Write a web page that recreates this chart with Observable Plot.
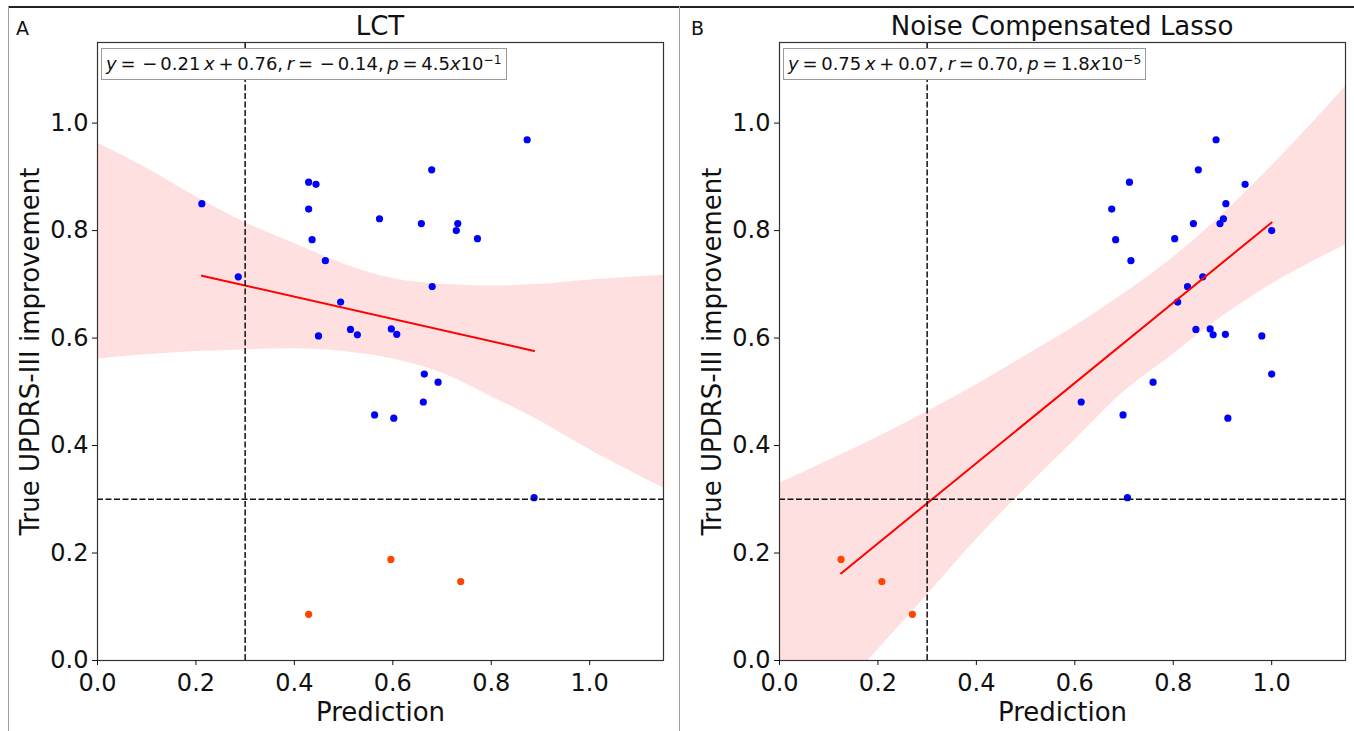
<!DOCTYPE html>
<html>
<head>
<meta charset="utf-8">
<script src="https://cdn.jsdelivr.net/npm/d3@7"></script>
<script src="https://cdn.jsdelivr.net/npm/@observablehq/plot@0.6"></script>
<style>
  body { margin: 0; background: #fff; font-family: "DejaVu Sans", sans-serif; }
  #fig { position: relative; width: 1354px; height: 731px; overflow: hidden; background: #fff; }
  .panel { position: absolute; top: 0; }
  .title { position: absolute; top: 10px; font-size: 26px; line-height: 32px; color: #111; white-space: nowrap; transform: translateX(-50%); }
  .letter { position: absolute; top: 16px; font-size: 19px; line-height: 24px; color: #111; }
  .ann { position: absolute; top: 48px; height: 32px; box-sizing: border-box; border: 1px solid #9a9a9a; background: #fff;
         font-size: 18px; line-height: 30px; padding: 0 4px; white-space: nowrap; color: #111; word-spacing: -2px; }
  .ann sup { font-size: 0.68em; position: relative; top: -0.5em; vertical-align: baseline; line-height: 0; }
  .ann .m { margin: 0 3px; }
  .hline { position: absolute; background: #222; }
  .vline { position: absolute; background: #a0a0a0; }
</style>
</head>
<body>
<div id="fig"></div>
<script>
// ---- data ----
const trueImprovement = [0.969, 0.913, 0.890, 0.886, 0.850, 0.840, 0.822, 0.813, 0.813, 0.800,
                         0.785, 0.783, 0.744, 0.714, 0.696, 0.667, 0.617, 0.616, 0.607, 0.606,
                         0.604, 0.533, 0.518, 0.481, 0.457, 0.451, 0.303, 0.188, 0.147, 0.086];
const predLCT = [0.873, 0.679, 0.429, 0.444, 0.212, 0.429, 0.573, 0.658, 0.732, 0.729,
                 0.772, 0.436, 0.463, 0.286, 0.680, 0.494, 0.597, 0.514, 0.608, 0.528,
                 0.449, 0.664, 0.692, 0.662, 0.563, 0.602, 0.887, 0.596, 0.738, 0.429];
const predNCL = [0.887, 0.851, 0.711, 0.946, 0.907, 0.675, 0.902, 0.841, 0.895, 1.000,
                 0.803, 0.683, 0.714, 0.860, 0.829, 0.809, 0.875, 0.846, 0.906, 0.881,
                 0.980, 1.000, 0.759, 0.613, 0.698, 0.911, 0.707, 0.125, 0.208, 0.270];
const threshold = 0.3;

// confidence band
const bandX     = [0, 0.1, 0.2, 0.3, 0.4, 0.5, 0.6, 0.7, 0.8, 0.9, 1.0, 1.15];
const lctUpper  = [0.963, 0.916, 0.863, 0.815, 0.776, 0.738, 0.711, 0.700, 0.697, 0.700, 0.708, 0.717];
const lctLower  = [0.561, 0.569, 0.575, 0.578, 0.580, 0.575, 0.561, 0.535, 0.491, 0.445, 0.392, 0.321];
const nclUpper  = [0.330, 0.372, 0.416, 0.463, 0.513, 0.567, 0.622, 0.683, 0.750, 0.830, 0.920, 1.068];
const nclLower  = [-0.190, -0.080, 0.020, 0.122, 0.225, 0.320, 0.410, 0.500, 0.570, 0.640, 0.700, 0.773];

// regression line end points
const lctFitX = [0.212, 0.887];
const lctFitY = [0.716, 0.576];
const nclFitX = [0.125, 1.000];
const nclFitY = [0.162, 0.815];

const xTicks = [0, 0.2, 0.4, 0.6, 0.8, 1.0];
const yTicks = [0, 0.2, 0.4, 0.6, 0.8, 1.0];

const titles = ["LCT", "Noise Compensated Lasso"];
const letters = ["A", "B"];
const xLabel = "Prediction";
const yLabel = "True UPDRS-III improvement";

const BLUE = "#0000ff", ORANGE = "#ff4500";

function panel({pred, upper, lower, fitX, fitY, width, marginLeft, marginRight}) {
  const data = trueImprovement.map((y, i) => ({x: pred[i], y}));
  const band = bandX.map((x, i) => ({x, lo: lower[i], hi: upper[i]}));
  const fit = fitX.map((x, i) => ({x, y: fitY[i]}));
  return Plot.plot({
    width, height: 731,
    marginLeft, marginRight, marginTop: 42, marginBottom: 71,
    x: {domain: [0, 1.15]},
    y: {domain: [0, 1.15]},
    style: {fontFamily: "DejaVu Sans, sans-serif", background: "transparent", color: "#111"},
    marks: [
      Plot.areaY(band, {x: "x", y1: "lo", y2: "hi", fill: "#ff0000", fillOpacity: 0.12, curve: "monotone-x", clip: true}),
      Plot.dot(data.filter(d => d.y >= threshold), {x: "x", y: "y", r: 3.6, fill: BLUE, stroke: null}),
      Plot.dot(data.filter(d => d.y < threshold), {x: "x", y: "y", r: 3.6, fill: ORANGE, stroke: null}),
      Plot.line(fit, {x: "x", y: "y", stroke: "#ff0000", strokeWidth: 2}),
      Plot.ruleX([threshold], {stroke: "#111", strokeWidth: 1.5, strokeDasharray: "6,2.5"}),
      Plot.ruleY([threshold], {stroke: "#111", strokeWidth: 1.5, strokeDasharray: "6,2.5"}),
      Plot.frame({stroke: "#333", strokeWidth: 1.2}),
      Plot.axisX({ticks: xTicks, tickFormat: d3.format(".1f"), fontSize: 24, tickSize: 5, tickPadding: 8, label: null}),
      Plot.axisY({ticks: yTicks, tickFormat: d3.format(".1f"), fontSize: 24, tickSize: 5, tickPadding: 4, label: null}),
      Plot.text([xLabel], {frameAnchor: "bottom", lineAnchor: "middle", dy: 52, fontSize: 26, fill: "#111"}),
      Plot.text([yLabel], {frameAnchor: "left", textAnchor: "middle", lineAnchor: "middle", dx: -67, rotate: -90, fontSize: 26, fill: "#111"})
    ]
  });
}

const fig = document.getElementById("fig");

const left = panel({pred: predLCT, upper: lctUpper, lower: lctLower, fitX: lctFitX, fitY: lctFitY,
                    width: 680, marginLeft: 97, marginRight: 17});
left.classList.add("panel"); left.style.left = "0px";
fig.appendChild(left);

const right = panel({pred: predNCL, upper: nclUpper, lower: nclLower, fitX: nclFitX, fitY: nclFitY,
                     width: 674, marginLeft: 99, marginRight: 9});
right.classList.add("panel"); right.style.left = "680px";
fig.appendChild(right);

function add(html, cls, style) {
  const d = document.createElement("div");
  d.className = cls; d.innerHTML = html; Object.assign(d.style, style);
  fig.appendChild(d);
}
// frame lines
add("", "hline", {left: "8px", top: "6px", width: "1346px", height: "1.5px"});
add("", "vline", {left: "8px", top: "6px", width: "1px", height: "725px"});
add("", "vline", {left: "679px", top: "6px", width: "1px", height: "725px"});
// titles / letters
add(titles[0], "title", {left: "380px"});
add(titles[1], "title", {left: "1062px"});
add(letters[0], "letter", {left: "16px"});
add(letters[1], "letter", {left: "691px"});
// annotation boxes
add('<i>y</i> = <span class="m">−</span>0.21 <i>x</i> + 0.76, <i>r</i> = <span class="m">−</span>0.14, <i>p</i> = 4.5<i>x</i>10<sup>−1</sup>', "ann", {left: "101px"});
add('<i>y</i> = 0.75 <i>x</i> + 0.07, <i>r</i> = 0.70, <i>p</i> = 1.8<i>x</i>10<sup>−5</sup>', "ann", {left: "783px"});
</script>
</body>
</html>
